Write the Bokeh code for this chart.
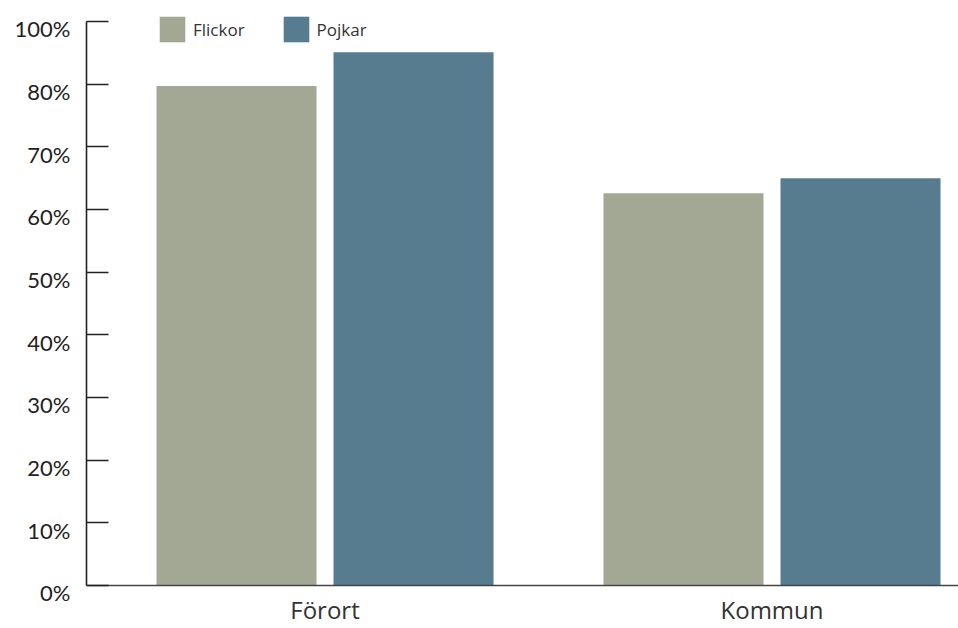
from bokeh.plotting import figure
from bokeh.models import (ColumnDataSource, Range1d, LinearAxis, FixedTicker,
                          Legend, LegendItem)
from bokeh.transform import dodge
from bokeh.embed import file_html
from bokeh.resources import INLINE

# ---- data ----
categories = ["Förort", "Kommun"]
series_names = ["Flickor", "Pojkar"]
flickor = [79.7, 62.6]
pojkar = [85.1, 65.0]
y_tick_values = [0, 10, 20, 30, 40, 50, 60, 70, 80, 90]
y_tick_labels = ["0%", "10%", "20%", "30%", "40%", "50%", "60%", "70%", "80%", "100%"]

colors = ["#A2A893", "#577C90"]

W, H = 958, 628
X_START, X_END = -0.726, 1.4172
X_AXIS = -0.5336          # where the value axis stands
Y_START, Y_END = -6.861, 93.35
LAB_SHIFT = 1.15          # tick labels sit a little below their ticks

p = figure(width=W, height=H, output_backend="svg", toolbar_location=None,
           x_range=Range1d(X_START, X_END), y_range=Range1d(Y_START, Y_END),
           min_border_left=0, min_border_right=0, min_border_top=0,
           min_border_bottom=0, x_axis_location=None, y_axis_location=None)
p.extra_y_ranges = {"lab": Range1d(Y_START + LAB_SHIFT, Y_END + LAB_SHIFT)}
p.outline_line_color = None
p.grid.visible = False
p.background_fill_color = "white"

positions = list(range(len(categories)))
source = ColumnDataSource(dict(x=positions, flickor=flickor, pojkar=pojkar))

off = 0.198
bw = 0.358
r1 = p.vbar(x=dodge("x", -off, range=p.x_range), top="flickor", width=bw,
            source=source, fill_color=colors[0], line_color=None)
r2 = p.vbar(x=dodge("x", off, range=p.x_range), top="pojkar", width=bw,
            source=source, fill_color=colors[1], line_color=None)

# value axis: line + inward ticks
ya = LinearAxis(ticker=FixedTicker(ticks=y_tick_values), fixed_location=X_AXIS)
ya.bounds = (0, 90)
ya.axis_line_color = "#222222"
ya.axis_line_width = 1.6
ya.major_tick_line_color = "#222222"
ya.major_tick_line_width = 1.6
ya.major_tick_in = 22
ya.major_tick_out = 0
ya.minor_tick_line_color = None
ya.major_label_text_color = None
p.add_layout(ya, "left")

# value axis labels
yl = LinearAxis(ticker=FixedTicker(ticks=y_tick_values), fixed_location=X_AXIS,
                y_range_name="lab")
yl.major_label_overrides = {v: l for v, l in zip(y_tick_values, y_tick_labels)}
yl.axis_line_color = None
yl.major_tick_line_color = None
yl.minor_tick_line_color = None
yl.major_tick_in = 0
yl.major_tick_out = 0
yl.major_label_standoff = 16
yl.major_label_text_font = "Lato"
yl.major_label_text_font_size = "22px"
yl.major_label_text_color = "#222222"
p.add_layout(yl, "left")

# category axis
xa = LinearAxis(ticker=FixedTicker(ticks=positions), fixed_location=0)
xa.bounds = (X_AXIS, X_END)
xa.major_label_overrides = {i: c for i, c in zip(positions, categories)}
xa.axis_line_color = "#444444"
xa.axis_line_width = 1.6
xa.major_tick_line_color = None
xa.minor_tick_line_color = None
xa.major_tick_in = 0
xa.major_tick_out = 0
xa.major_label_standoff = 7
xa.major_label_text_font = "Open Sans"
xa.major_label_text_font_size = "24px"
xa.major_label_text_color = "#333333"
p.add_layout(xa, "below")

legend = Legend(items=[LegendItem(label=series_names[0], renderers=[r1]),
                       LegendItem(label=series_names[1], renderers=[r2])],
                orientation="horizontal", location=(156, 583),
                padding=0, margin=0, spacing=35, label_standoff=5,
                glyph_width=32, glyph_height=32, label_height=32,
                border_line_color=None, background_fill_alpha=0,
                label_text_font="Open Sans", label_text_font_size="17px",
                label_text_color="#333333")
p.add_layout(legend, "center")

open("out.html", "w").write(file_html(p, INLINE))
